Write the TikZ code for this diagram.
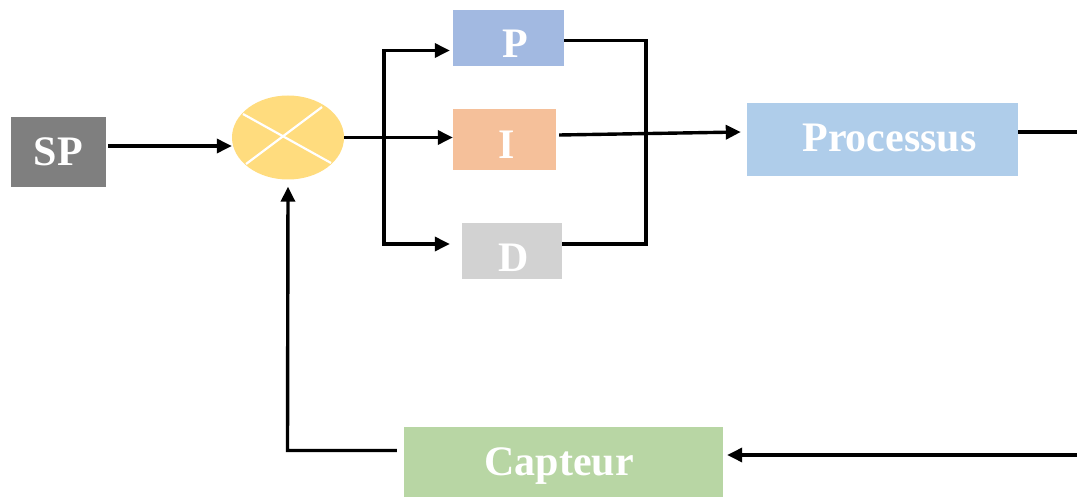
\documentclass[tikz,border=0pt]{standalone}
\usepackage{fontspec}
\setmainfont{Liberation Serif}
\usetikzlibrary{arrows.meta,shapes.geometric}
\definecolor{spgray}{HTML}{7F7F7F}
\definecolor{sumc}{HTML}{FFDC7E}
\definecolor{pc}{HTML}{A2B9E1}
\definecolor{ic}{HTML}{F5C09A}
\definecolor{dc}{HTML}{D2D2D2}
\definecolor{procc}{HTML}{AFCDEA}
\definecolor{captc}{HTML}{B8D6A4}
\tikzset{
  blk/.style={rectangle, inner sep=0pt, text=white, font=\fontsize{42}{42}\selectfont\bfseries,
    text height=27.8pt, text depth=0pt},
  wire/.style={line width=3.4pt, draw=black},
  arr/.style={wire, -{Triangle[length=15pt,width=14pt]}},
}
\begin{document}
\begin{tikzpicture}[x=1pt,y=-1pt]
\useasboundingbox (0,0) rectangle (1077,497);
% blocks
\node[blk, fill=spgray, minimum width=95pt, minimum height=70pt] (SP) at (58.5,152) {SP};
\node[ellipse, fill=sumc, minimum width=112pt, minimum height=84pt, inner sep=0pt] (sum) at (288,137.5) {};
\draw[white, line width=2.2pt] (243,114) -- (331,163) (322,107) -- (246,164);
\node[blk, fill=pc, minimum width=111pt, minimum height=56pt] (P) at (508.5,38) {\raisebox{-6pt}{\hspace*{13pt}P}};
\node[blk, fill=ic, minimum width=103pt, minimum height=61pt] (I) at (504.5,139.5) {\raisebox{-5.5pt}{\hspace*{5pt}I}};
\node[blk, fill=dc, minimum width=100pt, minimum height=56pt] (D) at (512,251) {\raisebox{-7pt}{\hspace*{4pt}D}};
\node[blk, fill=procc, minimum width=271pt, minimum height=73pt] (Proc) at (882.5,139.5) {\raisebox{1.5pt}{\hspace*{14pt}Processus}};
\node[blk, fill=captc, minimum width=319pt, minimum height=70pt] (Capt) at (563.5,462) {Capteur\hspace*{9pt}};
% coordinates
\coordinate (br) at (384,137);
\coordinate (bt) at (384,50.5);
\coordinate (bb) at (384,244);
\coordinate (rt) at (646,40.7);
\coordinate (rb) at (646,244);
\coordinate (out) at (1077,132);
\coordinate (in) at (1077,455);
\coordinate (fb) at (287.5,450.5);
% connectors
\draw[arr] ([xshift=2pt]SP.east |- 0,146) -- (sum.west |- 0,146);
\draw[arr] (sum.east) -- (sum.east -| I.west);
\draw[arr] (br) -- (bt) -- ([xshift=-3pt]P.west |- bt);
\draw[arr] (br) -- (bb) -- ([xshift=-12pt]D.west |- bb);
\draw[wire] (P.east |- rt) -- (rt) -- (rb) -- (D.east |- rb);
\draw[arr] ([xshift=3pt]I.east |- 0,135) -- ([xshift=-6pt]Proc.west |- 0,132);
\draw[wire] (Proc.east |- out) -- (out);
\draw[arr] (in) -- ([xshift=4pt]Capt.east |- in);
\draw[arr] ([xshift=-7pt]Capt.west |- fb) -- (fb) -- ([yshift=-7pt]sum.south);
\end{tikzpicture}
\end{document}
